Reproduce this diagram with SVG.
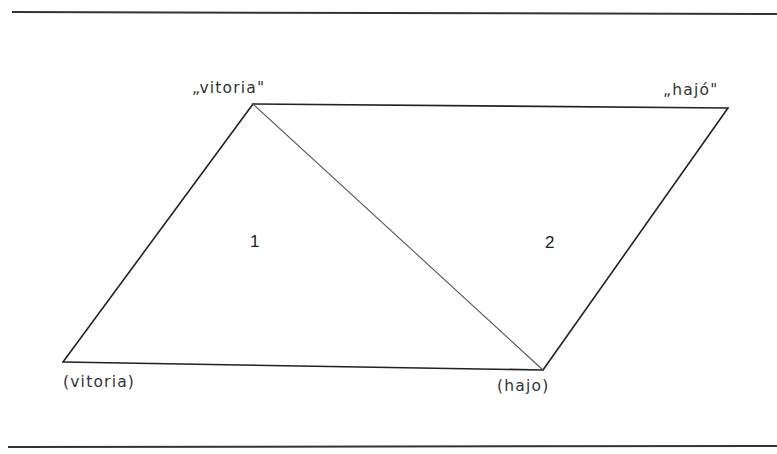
<svg xmlns="http://www.w3.org/2000/svg" width="777" height="454" viewBox="0 0 777 454">
<style>
.ln{stroke:#222;stroke-width:1.6;fill:none;stroke-linecap:round}
.rule{stroke:#333;stroke-width:2;fill:none}
.t{font-family:"DejaVu Sans","Liberation Sans",sans-serif;font-size:15.5px;letter-spacing:1.2px;fill:#333}
.n{font-family:"Liberation Sans",sans-serif;font-size:17px;fill:#222}
</style>
<rect width="777" height="454" fill="#fff"/>
<g id="rules">
<line class="rule" x1="12" y1="12" x2="777" y2="14"/>
<line class="rule" x1="8" y1="447" x2="777" y2="446"/>
</g>
<g id="connectors">
<line class="ln" x1="253" y1="104" x2="728" y2="108"/>
<line class="ln" x1="728" y1="108" x2="543" y2="370"/>
<line class="ln" x1="543" y1="370" x2="63" y2="362"/>
<line class="ln" x1="63" y1="362" x2="253" y2="104"/>
<line class="ln" x1="253" y1="104" x2="543" y2="370" style="stroke-width:1.1;stroke:#555"/>
</g>
<g id="node-vitoria-q"><text class="t" x="192" y="93">„vitoria"</text></g>
<g id="node-hajo-q"><text class="t" x="663" y="95">„hajó"</text></g>
<g id="node-vitoria-p"><text class="t" x="63" y="387">(vitoria)</text></g>
<g id="node-hajo-p"><text class="t" x="497" y="391">(hajo)</text></g>
<g id="region-1"><text class="n" x="250" y="247">1</text></g>
<g id="region-2"><text class="n" x="545" y="248">2</text></g>
</svg>
